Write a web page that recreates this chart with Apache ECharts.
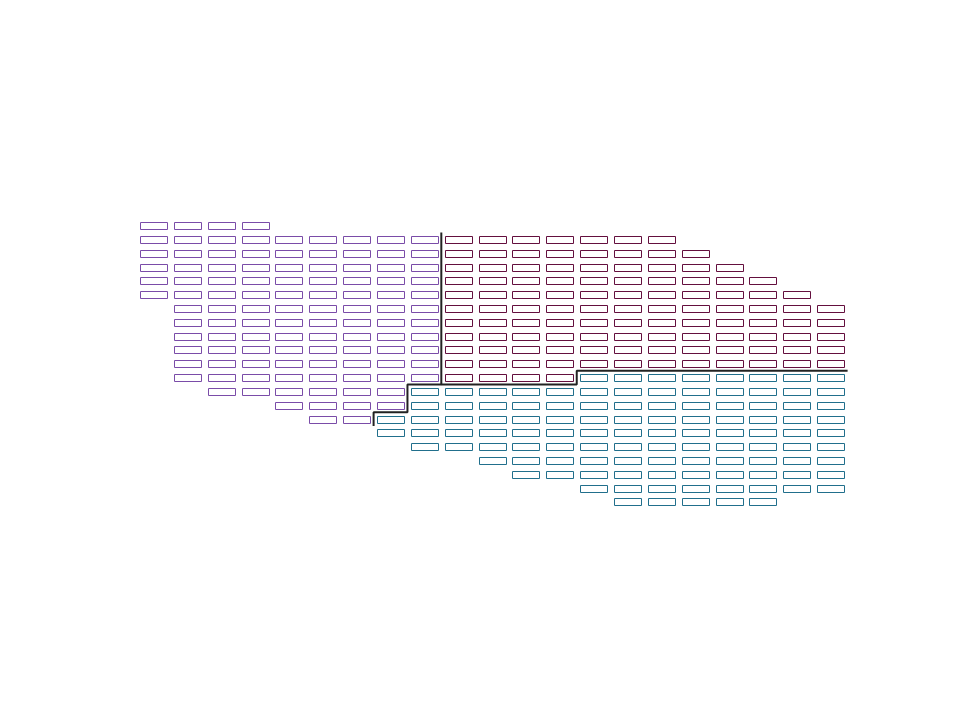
<!DOCTYPE html>
<html>
<head>
<meta charset="utf-8">
<script src="https://cdn.jsdelivr.net/npm/echarts@6/dist/echarts.min.js"></script>
<style>html,body{margin:0;padding:0;background:#fff;}#chart{width:960px;height:720px;}</style>
</head>
<body>
<div id="chart"></div>
<script>
// Row spans per group: [row, firstColumn, lastColumn]
var purpleRows = [[0,0,3],[1,0,8],[2,0,8],[3,0,8],[4,0,8],[5,0,8],[6,1,8],[7,1,8],[8,1,8],[9,1,8],[10,1,8],[11,1,8],[12,2,7],[13,4,7],[14,5,6]];
var maroonRows = [[1,9,15],[2,9,16],[3,9,17],[4,9,18],[5,9,19],[6,9,20],[7,9,20],[8,9,20],[9,9,20],[10,9,20],[11,9,12]];
var tealRows = [[11,13,20],[12,8,20],[13,8,20],[14,7,20],[15,7,20],[16,8,20],[17,10,20],[18,11,20],[19,13,20],[20,14,18]];
// Boundary lines (grid coordinates: column, row)
var boundaryA = [[8.5,0.5],[8.5,11.5],[7.5,11.5],[7.5,13.5],[6.5,13.5],[6.5,14.5]];
var boundaryB = [[8.5,11.5],[12.5,11.5],[12.5,10.5],[20.5,10.5]];

function cells(rows){
  var out = [];
  rows.forEach(function(r){ for (var c = r[1]; c <= r[2]; c++) out.push([c, r[0]]); });
  return out;
}
function renderCell(params, api){
  var p = api.coord([api.value(0), api.value(1)]);
  var s = api.size([1, 1]);
  var m = 3.4;
  return {
    type: 'rect',
    shape: {x: Math.round(p[0] - s[0]/2 + m) + 0.5, y: Math.round(p[1] - s[1]/2 + m) + 0.5,
            width: Math.round(s[0] - 2*m), height: Math.round(s[1] - 2*m)},
    style: {fill: 'none', stroke: api.visual('color'), lineWidth: 1}
  };
}
function cellSeries(rows, color){
  return {type: 'custom', renderItem: renderCell, data: cells(rows), itemStyle: {color: color}, silent: true};
}
function lineSeries(pts){
  return {type: 'line', data: pts, symbol: 'none', silent: true,
          lineStyle: {color: '#222', width: 2}, z: 10};
}
var chart = echarts.init(document.getElementById('chart'), null, {renderer: 'canvas'});
chart.setOption({
  animation: false,
  backgroundColor: '#fff',
  grid: {left: 136.6, top: 218.8, width: 711, height: 290},
  xAxis: {type: 'value', min: -0.5, max: 20.5, show: false},
  yAxis: {type: 'value', min: -0.5, max: 20.5, inverse: true, show: false},
  series: [
    cellSeries(purpleRows, '#7a4ca8'),
    cellSeries(maroonRows, '#640f3e'),
    cellSeries(tealRows, '#216f8c'),
    lineSeries(boundaryA),
    lineSeries(boundaryB)
  ]
});
</script>
</body>
</html>
